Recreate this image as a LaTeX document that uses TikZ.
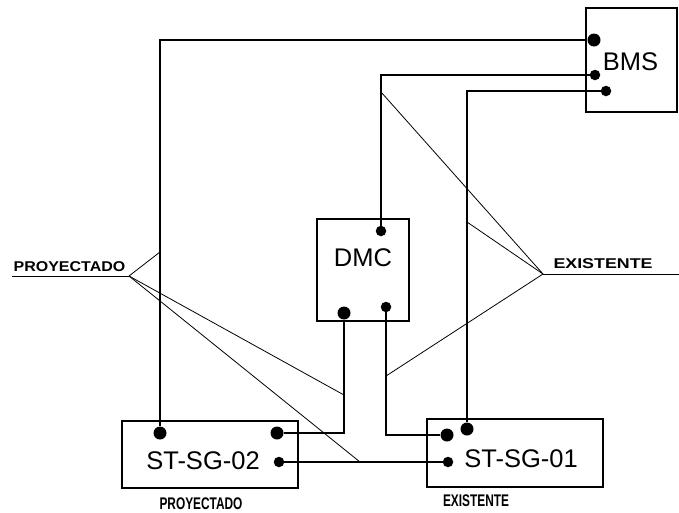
\documentclass[tikz,border=0pt]{standalone}
\usepackage{fontspec}
\setmainfont{Liberation Sans}
\usepackage{tikz}
\usetikzlibrary{positioning,calc}

\begin{document}
\begin{tikzpicture}[
  x=1pt, y=-1pt,
  every node/.style={inner sep=0pt},
  box/.style={draw, rectangle, line width=1.4pt},
  boxtitle/.style={font=\fontsize{25.5}{30}\selectfont},
  tag/.style={font=\fontsize{16.5}{20}\selectfont\bfseries},
  bigdot/.style={circle, fill, minimum size=13pt},
  dot/.style={circle, fill, minimum size=10.5pt},
  cable/.style={line width=1.4pt},
  lead/.style={line width=0.8pt}
]
\useasboundingbox (0,0) rectangle (679,512);

%% Boxes
\node[box, minimum width=91pt, minimum height=104pt] (bms) at (631.5,60) {};
\node[boxtitle] (bmst) at (630.5,61.5) {BMS};
\node[box, minimum width=92pt, minimum height=102pt] (dmc) at (363,270) {};
\node[boxtitle] (dmct) at (363,258) {DMC};
\node[box, minimum width=176pt, minimum height=67pt] (sg2) at (210,454.5) {};
\node[boxtitle] (sg2t) at (203,461) {ST-SG-02};
\node[box, minimum width=176pt, minimum height=68pt] (sg1) at (515,453) {};
\node[boxtitle] (sg1t) at (521,459) {ST-SG-01};

%% Terminals
\node[bigdot] (bms1) at (594,40) {};
\node[dot]    (bms2) at (595,75) {};
\node[dot]    (bms3) at (606,91) {};
\node[dot]    (dmcT) at (381,231) {};
\node[bigdot] (dmcL) at (344,313) {};
\node[dot]    (dmcR) at (386,307) {};
\node[bigdot] (sg2a) at (160,433) {};
\node[bigdot] (sg2b) at (277,433) {};
\node[dot]    (sg2c) at (279,462) {};
\node[bigdot] (sg1a) at (447,435) {};
\node[bigdot] (sg1b) at (467,429) {};
\node[dot]    (sg1c) at (448,462) {};

%% Cables
\draw[cable] (bms1) -| (sg2a);
\draw[cable] (bms2) -| (dmcT);
\draw[cable] (bms3) -| (sg1b);
\draw[cable] (dmcL) |- (sg2b);
\draw[cable] (dmcR) |- (sg1a);
\draw[cable] (sg2c) -- (sg1c);

%% Labels and leaders
\node[tag, anchor=base] (pyl) at (69.5,271) {\scalebox{0.97}[0.86]{PROYECTADO}};
\coordinate (pyA) at (129,276);
\coordinate (pyS) at (12,276);
\coordinate (p1) at (160,252);
\coordinate (p2) at (344,395);
\coordinate (p3) at (360,462);
\draw[lead] (pyS) -- (pyA);
\draw[lead] (pyA) -- (p1);
\draw[lead] (pyA) -- (p2);
\draw[lead] (pyA) -- (p3);

\node[tag, anchor=base] (exl) at (603,268.5) {\scalebox{1.08}[0.86]{EXISTENTE}};
\coordinate (exA) at (543,274);
\coordinate (exS) at (679,274);
\coordinate (e1) at (381,92);
\coordinate (e2) at (467,222);
\coordinate (e3) at (386,376);
\draw[lead] (exA) -- (exS);
\draw[lead] (exA) -- (e1);
\draw[lead] (exA) -- (e2);
\draw[lead] (exA) -- (e3);

\node[tag, anchor=base] (pyb) at (201,509.5) {\scalebox{0.72}[1.02]{PROYECTADO}};
\node[tag, anchor=base] (exb) at (476,506.5) {\scalebox{0.72}[1.02]{EXISTENTE}};
\end{tikzpicture}
\end{document}
